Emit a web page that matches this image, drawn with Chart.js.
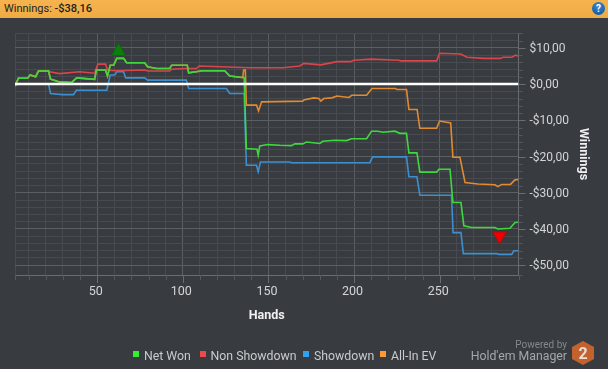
<!DOCTYPE html>
<html>
<head>
<meta charset="utf-8">
<title>Winnings</title>
<script src="https://cdn.jsdelivr.net/npm/chart.js@4"></script>
<style>
  html, body { margin: 0; padding: 0; background: #383c40; overflow: hidden; }
  body { width: 608px; height: 369px; position: relative; font-family: Roboto, sans-serif; }
  #chart { position: absolute; left: 0; top: 0; }
  #header { position: absolute; left: 0; top: 0; width: 608px; height: 18px; line-height: 18px;
    background: linear-gradient(#f6b44e, #f0aa45); color: #222; font-size: 11px; text-indent: 4px; }
  #header b { font-weight: 500; }
  #help { position: absolute; left: 592px; top: 2px; width: 13px; height: 13px; border-radius: 50%;
    background: radial-gradient(circle at 50% 30%, #3d8ad0, #0d4f95); color: #fff; font: bold 10px/13px Roboto, sans-serif;
    text-align: center; text-indent: 0; }
  .leg { position: absolute; top: 348px; font-size: 12.3px; line-height: 16px; color: #c9cbcc; white-space: nowrap; }
  .leg i { position: absolute; left: -11px; top: 3px; width: 6px; height: 6px; }
  #powered { position: absolute; right: 41px; top: 338px; font-size: 10px; line-height: 13px; color: #85888a; }
  #hem { position: absolute; right: 41px; top: 348px; font-size: 12.3px; line-height: 16px; color: #a5a7a9; white-space: nowrap; }
  #logo { position: absolute; left: 571px; top: 340px; }
</style>
</head>
<body>
<canvas id="chart" width="608" height="369"></canvas>
<div id="header">Winnings: <b>-$38,16</b><div id="help">?</div></div>
<div id="legend"></div>
<div id="powered">Powered by</div>
<div id="hem">Hold'em Manager</div>
<svg id="logo" width="24" height="26" viewBox="0 0 24 26">
  <polygon points="12,1 23,7 23,19 12,25 1,19 1,7" fill="#c4622d"/>
  <text x="12" y="19" text-anchor="middle" font-family="Roboto" font-weight="bold" font-size="16" fill="#e6dfd8">2</text>
</svg>
<script>
// Valores
const netHands = [2, 4, 9.3, 10.9, 14, 15.7, 21.6, 22.7, 28, 35, 38, 48.5, 49.5, 54.9, 56, 57.6, 59.6, 61.4, 65.4, 67.2, 77.7, 79.4, 84.7, 92.3, 93.5, 102.6, 103.4, 111.6, 124.4, 127.4, 135, 135.8, 137.1, 143.3, 144, 144.9, 149.6, 156.6, 163.4, 165.4, 170, 172.2, 180, 181.7, 188.7, 195.6, 198.5, 207.3, 210.2, 213.9, 216.8, 223.8, 226.7, 230.6, 232, 236.7, 238.4, 248.2, 249.5, 256, 257.7, 262.4, 264.1, 268.6, 282.2, 284, 291, 294, 296];
const netWon = [-0.5, 1.6, 1.6, 2.5, 2, 3.6, 3.6, 1.4, 0.6, 0.4, 1.7, 1.3, 3.9, 3.9, 2.2, 5.2, 5.2, 7.1, 7.1, 5.9, 5.9, 4.8, 4.3, 4.3, 5.2, 5.2, 3.1, 3.7, 3.7, 2.2, 1.8, 1.8, -17.8, -18, -19.6, -17.1, -16.7, -16.9, -17, -16.5, -16.5, -16, -16.4, -15.8, -15.5, -15.6, -15.1, -15.1, -13, -13, -13.3, -13, -13.6, -13.6, -19, -19, -24.3, -24.3, -23.5, -23.5, -32.7, -32.7, -39.1, -39.6, -39.6, -40, -39.8, -38.2, -38.16];

const nonHands = [2, 4, 9.3, 10.9, 14, 15.7, 21.6, 22.2, 28, 39.7, 48.5, 50.4, 54.9, 56, 60.7, 77.7, 79.4, 92.3, 93.5, 102, 107.9, 109.6, 138.9, 158.4, 168.3, 170.6, 180.6, 190, 197.9, 199.8, 209.6, 226.1, 227.3, 248.2, 249.9, 262.2, 265.9, 275.8, 285.6, 287, 292.2, 294.3, 296];
const nonShowdown = [-0.5, 1.6, 1.6, 2.5, 2, 3.6, 3.6, 3.4, 2.9, 3.4, 3, 5.5, 5.5, 3.9, 3.7, 3.9, 3.6, 3.6, 4.1, 4.3, 4.3, 5, 4.5, 4.5, 5, 5.7, 5.3, 6.2, 6.2, 6.6, 6.9, 6.6, 6.4, 6.4, 8.5, 8.3, 7.4, 7.1, 7.1, 7.4, 7.4, 8, 7.7];

const showHands = [2, 4, 21.6, 22.7, 29.8, 36.2, 37.8, 55.6, 57.6, 60.2, 61.5, 65.4, 66.6, 77.7, 79.4, 102, 103.4, 125.4, 127.4, 135.8, 137.1, 143, 144, 145.3, 162.4, 163.6, 209.2, 210.8, 230.6, 232, 236.7, 238.4, 256.9, 257.8, 262.4, 263.8, 283.2, 284.6, 292, 293.3, 296];
const showdown = [-0.5, 0, 0, -2.6, -2.9, -2.9, -1.7, -1.7, 2.5, 2.5, 3.4, 3.4, 1.7, 1.7, 1.1, 1.1, -1.2, -1.2, -2.6, -2.6, -22.4, -22.4, -24.2, -21.5, -21.5, -21.7, -21.7, -20.1, -20.1, -25.6, -25.6, -30.7, -30.7, -41, -41, -46.8, -46.8, -47, -47, -46, -46];

const evHands = [2, 4, 9.3, 10.9, 14, 15.7, 21.6, 22.7, 28, 35, 38, 48.5, 49.5, 54.9, 56, 57.6, 59.6, 61.4, 65.4, 67.2, 77.7, 79.4, 84.7, 92.3, 93.5, 102.6, 103.4, 111.6, 124.4, 127.4, 135, 135.5, 136.5, 137.1, 143, 144.2, 146, 170, 170.6, 176.4, 179.4, 180.6, 182.3, 187, 190, 197, 198.6, 207.3, 210.4, 224.2, 225, 230.6, 232, 236.8, 238.4, 248.2, 249.9, 256.4, 257.7, 261.8, 264.8, 272.4, 282.2, 284, 286.1, 291.3, 293.8, 296];
const allInEv = [-0.5, 1.6, 1.6, 2.5, 2, 3.6, 3.6, 1.4, 0.6, 0.4, 1.7, 1.3, 3.9, 3.9, 2.2, 5.2, 5.2, 7.1, 7.1, 5.9, 5.9, 4.8, 4.3, 4.3, 5.2, 5.2, 3.1, 3.7, 3.7, 2.2, 1.8, 3.9, 3.9, -5.8, -5.8, -7.4, -4.9, -4.7, -4.4, -3.8, -4, -4.7, -4, -3.8, -3.3, -3.7, -3.1, -3.1, -1.2, -1.2, -1.5, -1.5, -7, -7, -12.2, -12.2, -10.2, -10.7, -20.2, -20.2, -27.2, -27.6, -27.8, -28.3, -27.7, -27.7, -26.5, -26.3];

const zeroHands = [2, 296];
const zeroLine = [0, 0];

const highMark = [{ x: 62.5, y: 9 }];
const lowMark = [{ x: 285, y: -41.9 }];

const seriesNames = ["Net Won", "Non Showdown", "Showdown", "All-In EV"];
const seriesColors = ["#3ed83e", "#d8454c", "#3d8fd0", "#e28a30"];
const legendColors = ["#33ee33", "#ee4848", "#33a0ee", "#ff9933"];
const legendLefts = [144, 210.5, 314, 391];

function toPoints(hands, values) {
    return hands.map((h, i) => ({ x: h, y: values[i] }));
}

function lineDataset(i, hands, values) {
    return {
        label: seriesNames[i],
        data: toPoints(hands, values),
        borderColor: seriesColors[i],
        borderWidth: 1.6,
        pointRadius: 0,
        tension: 0
    };
}

// Legenda fica em html porque não é centrada no gráfico
seriesNames.forEach((name, i) => {
    const item = document.createElement('div');
    item.className = 'leg';
    item.style.left = legendLefts[i] + 'px';
    item.textContent = name;
    const box = document.createElement('i');
    box.style.background = legendColors[i];
    item.appendChild(box);
    document.getElementById('legend').appendChild(item);
});

// Marcas curtas para fora do eixo, maiores nos valores principais
const axisTicks = {
    id: 'axisTicks',
    afterDraw(chart) {
        const ctx = chart.ctx;
        const area = chart.chartArea;
        ctx.save();
        ctx.lineWidth = 1;
        chart.scales.x.ticks.forEach(t => {
            const px = Math.round(chart.scales.x.getPixelForValue(t.value)) + 0.5;
            ctx.strokeStyle = t.value % 50 === 0 ? '#6a6d70' : '#56595c';
            ctx.beginPath();
            ctx.moveTo(px, area.bottom);
            ctx.lineTo(px, area.bottom + (t.value % 50 === 0 ? 8 : 5));
            ctx.stroke();
        });
        chart.scales.y.ticks.forEach(t => {
            const py = Math.round(chart.scales.y.getPixelForValue(t.value)) + 0.5;
            ctx.strokeStyle = t.value % 10 === 0 ? '#6a6d70' : '#56595c';
            ctx.beginPath();
            ctx.moveTo(area.right, py);
            ctx.lineTo(area.right + (t.value % 10 === 0 ? 7 : 4), py);
            ctx.stroke();
        });
        ctx.restore();
    }
};

new Chart(document.getElementById('chart'), {
    type: 'line',
    plugins: [axisTicks],
    data: {
        datasets: [
            {
                type: 'scatter',
                label: 'High',
                data: highMark,
                pointStyle: 'triangle',
                pointRadius: 8,
                backgroundColor: '#0a7f0a',
                borderColor: '#0b6b0b',
                borderWidth: 1
            },
            {
                type: 'scatter',
                label: 'Low',
                data: lowMark,
                pointStyle: 'triangle',
                pointRotation: 180,
                pointRadius: 8,
                backgroundColor: '#f00000',
                borderColor: '#a51010',
                borderWidth: 1
            },
            {
                label: 'Zero',
                data: toPoints(zeroHands, zeroLine),
                borderColor: '#ffffff',
                borderWidth: 2.5,
                pointRadius: 0
            },
            lineDataset(0, netHands, netWon),
            lineDataset(3, evHands, allInEv),
            lineDataset(1, nonHands, nonShowdown),
            lineDataset(2, showHands, showdown)
        ]
    },
    options: {
        responsive: false,
        animation: false,
        layout: { padding: { top: 33, left: 15, right: 0, bottom: 46 } },
        plugins: { legend: { display: false }, tooltip: { enabled: false } },
        scales: {
            x: {
                type: 'linear',
                min: 2,
                max: 296,
                afterFit: scale => { scale.height = 48; },
                grid: {
                    drawTicks: false,
                    color: ctx => ctx.tick.value % 50 === 0 ? '#5c5f62' : '#474a4e'
                },
                border: { color: '#6a6d70' },
                ticks: {
                    stepSize: 10,
                    autoSkip: false,
                    maxRotation: 0,
                    padding: 9,
                    labelOffset: -1.5,
                    color: '#d4d5d6',
                    font: { family: 'Roboto', size: 12.5 },
                    callback: v => v % 50 === 0 ? String(v) : ''
                },
                title: {
                    display: true,
                    text: 'Hands',
                    color: '#f0f0f0',
                    font: { family: 'Roboto', size: 12.5, weight: 'bold' },
                    padding: 0
                }
            },
            y: {
                position: 'right',
                min: -52.7,
                max: 14.1,
                afterFit: scale => { scale.width = 89.5; },
                grid: {
                    drawTicks: false,
                    color: ctx => ctx.tick.value % 10 === 0 ? '#5c5f62' : '#474a4e'
                },
                border: { color: '#6a6d70' },
                ticks: {
                    stepSize: 2,
                    autoSkip: false,
                    padding: 11,
                    labelOffset: 1,
                    color: '#d4d5d6',
                    font: { family: 'Roboto', size: 12 },
                    callback: v => {
                        if (v % 10 !== 0) return '';
                        const s = '$' + Math.abs(v) + ',00';
                        return v < 0 ? '-' + s : s;
                    }
                },
                title: {
                    display: true,
                    text: 'Winnings',
                    color: '#f0f0f0',
                    font: { family: 'Roboto', size: 12.5, weight: 'bold' },
                    padding: { top: 17, bottom: 0 }
                }
            }
        }
    }
});
</script>
</body>
</html>
